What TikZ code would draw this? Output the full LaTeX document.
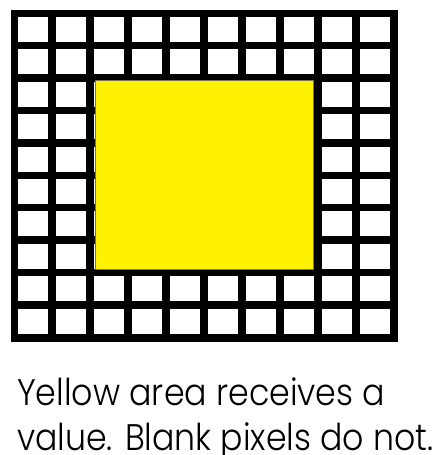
\documentclass[tikz,border=0pt]{standalone}
\usepackage{fontspec}
\setmainfont{Poppins}[UprightFont=* Light]
\begin{document}
\begin{tikzpicture}[x=1pt,y=-1pt,
  cell/.style={fill=white},
  grid/.style={fill=black},
  yel/.style={fill=yellow,draw=black!60!yellow,line width=0.6pt},
  caption/.style={anchor=base west,inner sep=0pt,font=\fontsize{37}{37}\selectfont}]
\useasboundingbox (0,0) rectangle (440,455);
\fill[white] (0,0) rectangle (440,455);
\path[grid] (11,10) rectangle (398,342);
\foreach \i in {0,...,9}{
  \foreach \j in {0,...,9}{
    \path[cell] ({18+\i*38},{17+\j*32.4}) rectangle ++(30,25);
  }
}
\path[yel] (95.5,80.5) rectangle (313.5,269.5);
\node[caption] (l1) at (17,405) {\resizebox{368pt}{\height}{Yellow area receives a}};
\node[caption] (l2) at (17,450) {\resizebox{416pt}{\height}{value. Blank pixels do not.}};
\end{tikzpicture}
\end{document}
